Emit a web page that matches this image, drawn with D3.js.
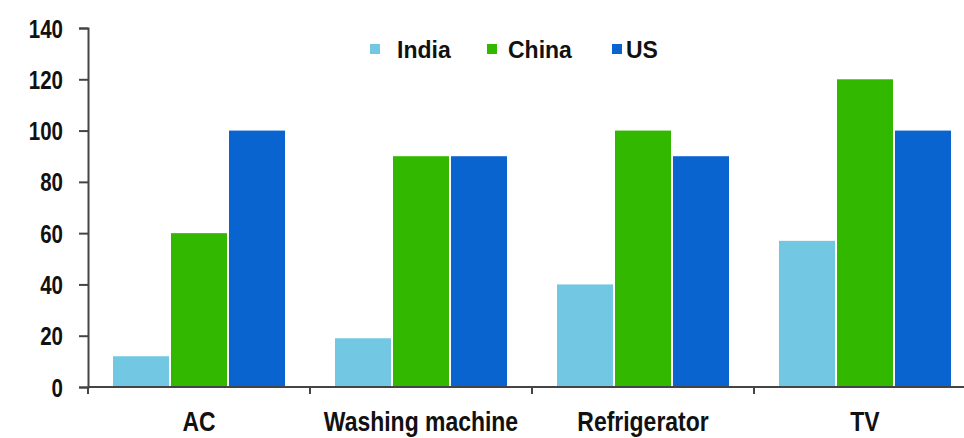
<!DOCTYPE html>
<html>
<head>
<meta charset="utf-8">
<script src="https://cdn.jsdelivr.net/npm/d3@7/dist/d3.min.js"></script>
<style>
  html, body { margin: 0; padding: 0; background: #fff; }
  svg { display: block; }
  text { font-family: "Liberation Sans", Arial, sans-serif; font-weight: bold; fill: #111; }
</style>
</head>
<body>
<svg id="chart" width="964" height="438"></svg>
<script>
// Appliance penetration by country
const categories = ["AC", "Washing machine", "Refrigerator", "TV"];
const seriesNames = ["India", "China", "US"];
const india = [12, 19, 40, 57];
const china = [60, 90, 100, 120];
const us = [100, 90, 90, 100];
const yTicks = [0, 20, 40, 60, 80, 100, 120, 140];
const colors = ["#72c8e2", "#33b800", "#0a64d0"];

const seriesValues = [india, china, us];
const rows = categories.map((c, i) => ({
  category: c,
  values: seriesNames.map((s, j) => ({ series: s, value: seriesValues[j][i], color: colors[j] }))
}));

const svg = d3.select("#chart");
const plotLeft = 88, plotRight = 976, plotTop = 28, plotBottom = 387;
const squeeze = 0.82; // condensed look for axis labels

const x = d3.scaleBand().domain(categories).range([plotLeft, plotRight]).padding(0);
const xs = d3.scaleBand().domain(seriesNames).range([24, x.bandwidth() - 24]).padding(0);
const y = d3.scaleLinear().domain([0, 140]).range([plotBottom, plotTop]);

// bars
const groups = svg.append("g").selectAll("g").data(rows).join("g")
  .attr("transform", d => `translate(${x(d.category)},0)`);
groups.selectAll("rect").data(d => d.values).join("rect")
  .attr("x", d => xs(d.series) + 1)
  .attr("width", xs.bandwidth() - 2)
  .attr("y", d => y(d.value))
  .attr("height", d => y(0) - y(d.value))
  .attr("fill", d => d.color);

// y axis
const yAxis = svg.append("g")
  .attr("transform", `translate(${plotLeft},0)`)
  .call(d3.axisLeft(y).tickValues(yTicks).tickSize(9).tickPadding(16));
yAxis.selectAll(".tick text")
  .attr("font-size", 25)
  .attr("font-family", null)
  .attr("fill", "#111")
  .attr("dy", "0.36em")
  .attr("x", -25 / squeeze)
  .attr("transform", `scale(${squeeze},1)`);
yAxis.select(".domain").attr("stroke", "#444").attr("stroke-width", 2);
yAxis.selectAll(".tick line").attr("stroke", "#444").attr("stroke-width", 2);

// x axis: ticks on category boundaries
const xAxis = svg.append("g").attr("transform", `translate(0,${plotBottom})`);
xAxis.append("line").attr("x1", plotLeft).attr("x2", 964).attr("stroke", "#444").attr("stroke-width", 2);
xAxis.selectAll("line.b").data(categories).join("line").attr("class", "b")
  .attr("x1", d => x(d)).attr("x2", d => x(d)).attr("y1", 0).attr("y2", 7)
  .attr("stroke", "#444").attr("stroke-width", 2);
xAxis.selectAll("g.lbl").data(categories).join("g").attr("class", "lbl")
  .attr("transform", d => `translate(${x(d) + x.bandwidth() / 2},44) scale(${squeeze},1)`)
  .append("text")
  .attr("text-anchor", "middle")
  .attr("font-size", 28)
  .text(d => d);

// legend
const legendSwatchX = [370, 487, 612];
const legendTextX = [397, 508, 626];
const legend = svg.append("g").attr("class", "legend")
  .selectAll("g").data(seriesNames).join("g");
legend.append("rect")
  .attr("x", (d, i) => legendSwatchX[i]).attr("y", 44)
  .attr("width", 10).attr("height", 10)
  .attr("fill", (d, i) => colors[i]);
legend.append("text")
  .attr("x", (d, i) => legendTextX[i]).attr("y", 50).attr("dy", "0.36em")
  .attr("font-size", 23).text(d => d);
</script>
</body>
</html>
